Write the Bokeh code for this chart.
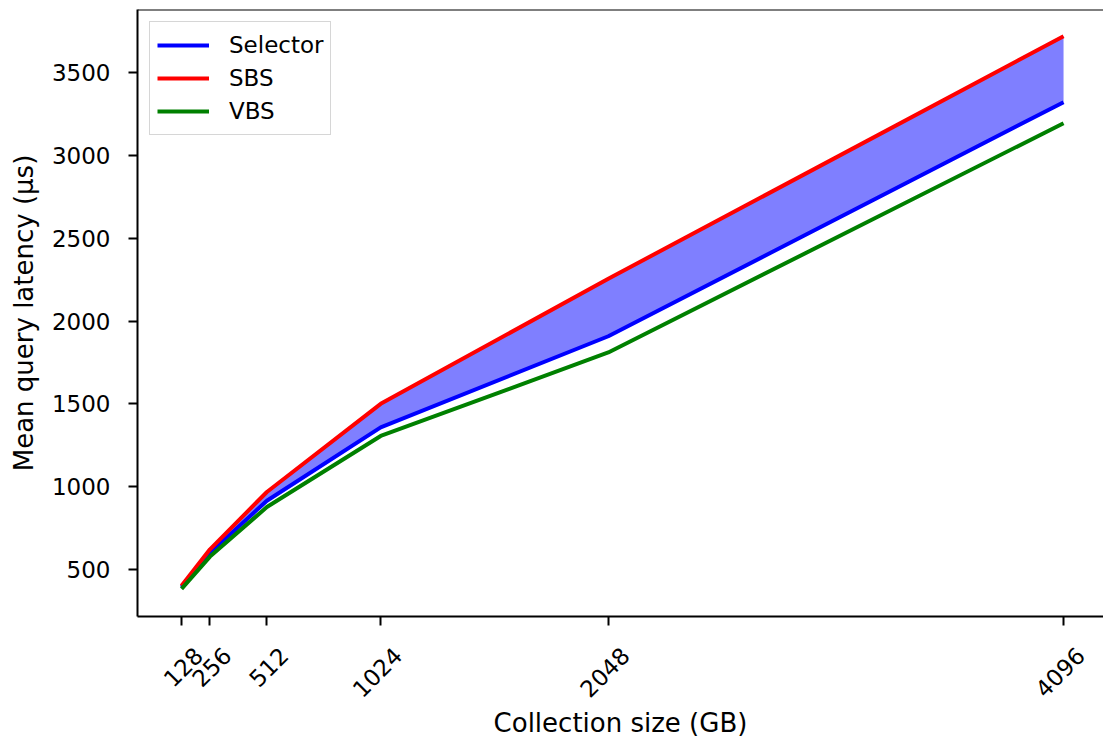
from bokeh.plotting import figure
from bokeh.models import (ColumnDataSource, Range1d, FixedTicker, Span, LinearAxis,
                          Legend, LegendItem, CustomLabelingPolicy)
from bokeh.embed import file_html
from bokeh.resources import INLINE
import math

# ---- data ----
sizes = [128, 256, 512, 1024, 2048, 4096]
selector = [392, 600, 915, 1358, 1908, 3321]
sbs = [402, 622, 968, 1500, 2255, 3719]
vbs = [383, 578, 877, 1306, 1810, 3194]
y_ticks = [500, 1000, 1500, 2000, 2500, 3000, 3500]

FONT = "DejaVu Sans"
W, H = 1103, 740
BL, BT, BB = 137, 9, 124
PX_PER_X = 0.22228

x0 = -70.1
x1 = x0 + (W - BL) / PX_PER_X
y0, y1 = 216.3, 3880.3

p = figure(width=W, height=H, output_backend="svg", toolbar_location=None,
           x_range=Range1d(x0, x1), y_range=Range1d(y0, y1),
           min_border_left=BL, min_border_right=0, min_border_top=BT,
           min_border_bottom=BB)
p.outline_line_color = None
p.grid.visible = False

# shifted range used only to place the rotated tick labels centred under the ticks
shift = 77
p.extra_x_ranges = {"lab": Range1d(x0 - shift, x1 - shift)}

src = ColumnDataSource(dict(x=sizes, sel=selector, sbs=sbs, vbs=vbs))

p.varea(x="x", y1="sel", y2="sbs", source=src, fill_color="#0000ff", fill_alpha=0.5)
r_sel = p.line("x", "sel", source=src, line_color="#0000ff", line_width=4)
r_sbs = p.line("x", "sbs", source=src, line_color="#ff0000", line_width=4)
r_vbs = p.line("x", "vbs", source=src, line_color="#008000", line_width=4)


def style(ax):
    ax.axis_line_width = 2
    ax.axis_line_color = "black"
    ax.major_tick_line_width = 2
    ax.major_tick_line_color = "black"
    ax.major_tick_out = 9
    ax.major_tick_in = 0
    ax.minor_tick_line_color = None
    ax.major_label_text_font = FONT
    ax.major_label_text_font_size = "23px"
    ax.major_label_text_color = "black"
    ax.axis_label_text_font = FONT
    ax.axis_label_text_font_size = "26px"
    ax.axis_label_text_font_style = "normal"
    ax.axis_label_text_color = "black"


style(p.xaxis[0])
style(p.yaxis[0])

p.yaxis.ticker = FixedTicker(ticks=y_ticks)
p.yaxis.major_label_standoff = 18
p.yaxis.axis_label = "Mean query latency (µs)"
p.yaxis.axis_label_standoff = 10

# main bottom axis: spine and ticks only (its own labels are suppressed)
p.xaxis.ticker = FixedTicker(ticks=sizes)
p.xaxis.major_label_text_font_size = "0px"
p.xaxis.major_label_standoff = 0
p.xaxis.major_label_policy = CustomLabelingPolicy(code="""
    const all = [...indices]
    for (const i of all) indices.unset(i)
    return indices
""")

# second bottom axis: rotated labels + axis title
lab_axis = LinearAxis(x_range_name="lab", ticker=FixedTicker(ticks=sizes))
style(lab_axis)
lab_axis.axis_line_color = None
lab_axis.major_tick_line_color = None
lab_axis.major_tick_out = 0
lab_axis.major_label_orientation = math.pi / 4
lab_axis.major_label_standoff = 26
lab_axis.axis_label = "Collection size (GB)"
lab_axis.axis_label_standoff = 0
p.add_layout(lab_axis, "below")

# top spine
p.add_layout(Span(location=y1, dimension="width", line_color="black", line_width=2))

legend = Legend(items=[LegendItem(label="Selector", renderers=[r_sel]),
                       LegendItem(label="SBS", renderers=[r_sbs]),
                       LegendItem(label="VBS", renderers=[r_vbs])],
                location="top_left", margin=12, padding=7, spacing=1,
                glyph_width=52, glyph_height=32, label_height=32,
                label_standoff=20, label_text_font=FONT,
                label_text_font_size="23px", label_text_color="black",
                border_line_color="#cccccc", border_line_alpha=0.8,
                border_line_width=1, background_fill_alpha=0.8)
p.add_layout(legend)

open("out.html", "w").write(file_html(p, INLINE))
